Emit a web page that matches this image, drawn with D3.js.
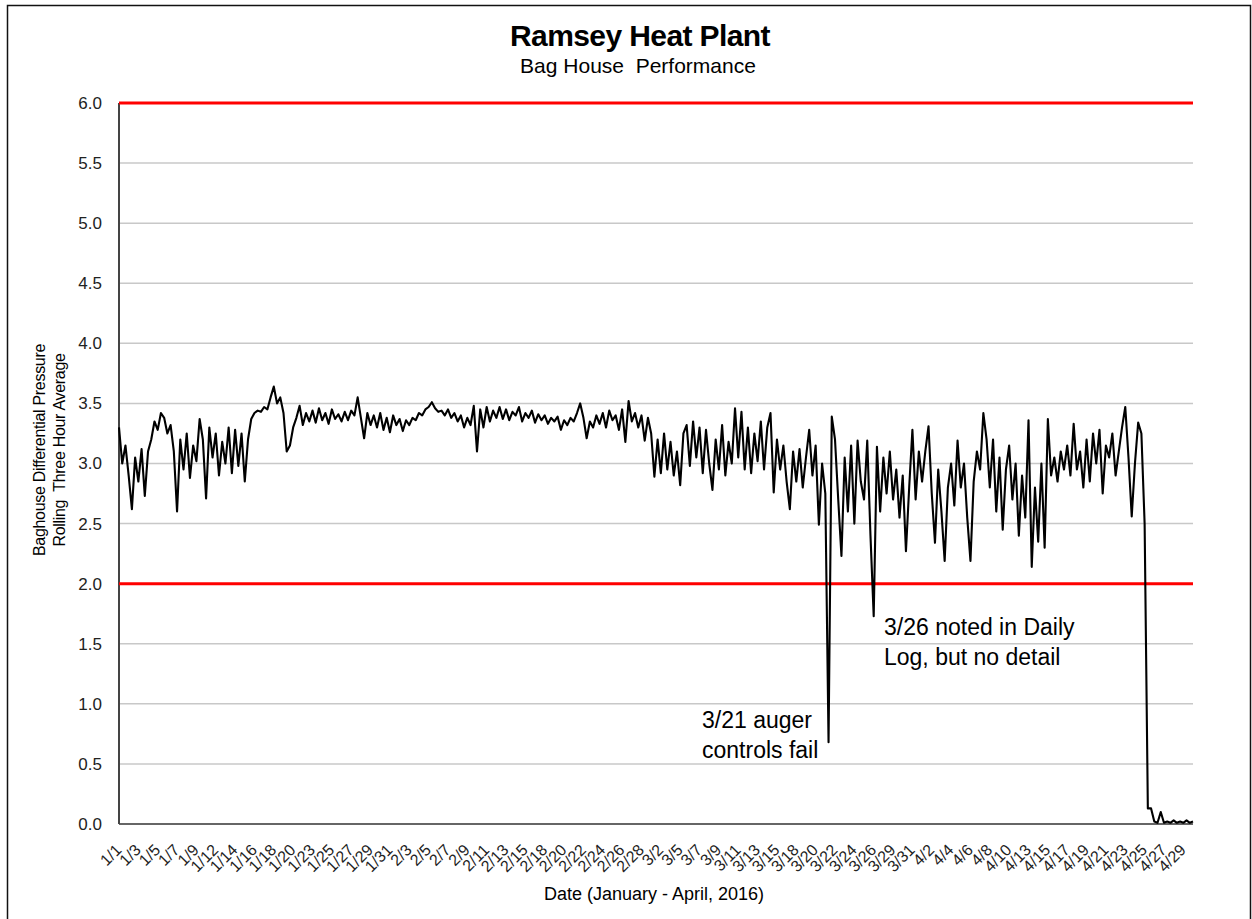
<!DOCTYPE html>
<html>
<head>
<meta charset="utf-8">
<script src="https://cdn.jsdelivr.net/npm/d3@7"></script>
<style>
body { margin: 0; background: #fff; }
text { font-family: "Liberation Sans", Arial, sans-serif; }
</style>
</head>
<body>
<script>
// rolling three hour average (about 3 readings per day)
var pressure = [
  3.30, 3.00, 3.15, 2.90, 2.62, 3.05, 2.85, 3.12, 2.73, 3.10,
  3.20, 3.35, 3.28, 3.42, 3.38, 3.25, 3.32, 3.10, 2.60, 3.20,
  2.95, 3.25, 2.88, 3.15, 3.02, 3.37, 3.20, 2.71, 3.30, 3.05,
  3.25, 2.90, 3.18, 3.00, 3.30, 2.92, 3.28, 2.98, 3.25, 2.85,
  3.20, 3.37, 3.42, 3.44, 3.43, 3.47, 3.45, 3.55, 3.64, 3.50,
  3.55, 3.42, 3.10, 3.15, 3.30, 3.38, 3.48, 3.32, 3.42, 3.35,
  3.44, 3.34, 3.46, 3.36, 3.42, 3.33, 3.45, 3.37, 3.41, 3.35,
  3.43, 3.36, 3.44, 3.40, 3.55, 3.38, 3.21, 3.42, 3.32, 3.40,
  3.30, 3.42, 3.28, 3.38, 3.26, 3.40, 3.32, 3.37, 3.27, 3.36,
  3.32, 3.38, 3.36, 3.42, 3.40, 3.45, 3.47, 3.51, 3.46, 3.43,
  3.44, 3.40, 3.45, 3.38, 3.42, 3.35, 3.40, 3.30, 3.38, 3.32,
  3.48, 3.10, 3.45, 3.30, 3.47, 3.35, 3.44, 3.38, 3.47, 3.37,
  3.45, 3.36, 3.43, 3.40, 3.47, 3.35, 3.42, 3.38, 3.44, 3.34,
  3.41, 3.36, 3.40, 3.33, 3.38, 3.35, 3.39, 3.28, 3.36, 3.32,
  3.38, 3.35, 3.42, 3.50, 3.38, 3.21, 3.35, 3.30, 3.40, 3.33,
  3.42, 3.30, 3.44, 3.36, 3.40, 3.28, 3.45, 3.18, 3.52, 3.35,
  3.42, 3.30, 3.40, 3.19, 3.38, 3.25, 2.89, 3.20, 2.92, 3.25,
  2.95, 3.18, 2.90, 3.10, 2.82, 3.25, 3.32, 2.98, 3.35, 3.05,
  3.30, 2.92, 3.28, 3.00, 2.78, 3.20, 2.95, 3.32, 2.90, 3.18,
  3.00, 3.46, 3.05, 3.43, 2.95, 3.30, 2.92, 3.25, 3.02, 3.35,
  2.95, 3.30, 3.42, 2.76, 3.20, 2.95, 3.15, 2.85, 2.62, 3.10,
  2.85, 3.12, 2.80, 3.05, 3.28, 2.90, 3.15, 2.49, 3.00, 2.75,
  0.68, 3.39, 3.20, 2.70, 2.23, 3.05, 2.60, 3.15, 2.50, 3.19,
  2.85, 2.70, 3.19, 2.40, 1.73, 3.14, 2.60, 3.05, 2.75, 3.10,
  2.70, 2.95, 2.55, 2.90, 2.27, 2.80, 3.28, 2.70, 3.10, 2.85,
  3.10, 3.31, 2.75, 2.34, 2.95, 2.60, 2.19, 2.80, 3.00, 2.65,
  3.19, 2.80, 3.00, 2.55, 2.19, 2.85, 3.10, 2.95, 3.42, 3.20,
  2.80, 3.20, 2.60, 3.05, 2.45, 2.95, 3.15, 2.70, 3.00, 2.40,
  2.90, 2.55, 3.36, 2.14, 2.80, 2.35, 3.00, 2.30, 3.37, 2.90,
  3.05, 2.85, 3.10, 2.95, 3.15, 2.90, 3.33, 2.95, 3.10, 2.80,
  3.20, 2.85, 3.25, 3.00, 3.28, 2.75, 3.15, 3.05, 3.25, 2.90,
  3.10, 3.30, 3.47, 3.05, 2.56, 3.00, 3.34, 3.25, 2.50, 0.13,
  0.13, 0.02, 0.01, 0.10, 0.01, 0.02, 0.01, 0.03, 0.01, 0.02,
  0.01, 0.03, 0.01, 0.02
];
var dateLabels = ["1/1","1/3","1/5","1/7","1/9","1/12","1/14","1/16","1/18","1/20",
  "1/23","1/25","1/27","1/29","1/31","2/3","2/5","2/7","2/9","2/11",
  "2/13","2/15","2/18","2/20","2/22","2/24","2/26","2/28","3/2","3/5",
  "3/7","3/9","3/11","3/13","3/15","3/18","3/20","3/22","3/24","3/26",
  "3/29","3/31","4/2","4/4","4/6","4/8","4/10","4/13","4/15","4/17",
  "4/19","4/21","4/23","4/25","4/27","4/29"];
var yTicks = [0, 0.5, 1, 1.5, 2, 2.5, 3, 3.5, 4, 4.5, 5, 5.5, 6];
var limits = [2.0, 6.0];
var notes = [
  {lines: ["3/21 auger", "controls fail"], x: 702, y: 728},
  {lines: ["3/26 noted in Daily", "Log, but no detail"], x: 884, y: 635}
];
var labelEvery = 6; // one date label per 6 readings

var width = 1252, height = 919;
var plotL = 119, plotR = 1193, plotT = 103, plotB = 824;

var svg = d3.select("body").append("svg")
  .attr("width", width)
  .attr("height", height);

svg.append("rect")
  .attr("x", 7.5).attr("y", 5.5)
  .attr("width", 1243).attr("height", 930)
  .attr("fill", "none").attr("stroke", "#111").attr("stroke-width", 1.5);

var x = d3.scaleLinear().domain([0, pressure.length - 1]).range([plotL, plotR]);
var y = d3.scaleLinear().domain([0, 6]).range([plotB, plotT]);

// grid lines
svg.append("g").selectAll("line")
  .data(yTicks).enter().append("line")
  .attr("x1", plotL).attr("x2", plotR)
  .attr("y1", function(d) { return y(d); })
  .attr("y2", function(d) { return y(d); })
  .attr("stroke", "#c8c8c8").attr("stroke-width", 1.5);

// y axis labels
var yAxis = svg.append("g")
  .attr("transform", "translate(" + plotL + ",0)")
  .call(d3.axisLeft(y).tickValues(yTicks).tickSize(0).tickPadding(17)
    .tickFormat(d3.format(".1f")));
yAxis.select(".domain").remove();
yAxis.selectAll("text")
  .attr("font-size", 17).attr("fill", "#222")
  .style("font-family", "'Liberation Sans', Arial, sans-serif");

// x axis labels
var xAxis = svg.append("g")
  .attr("transform", "translate(0," + plotB + ")")
  .call(d3.axisBottom(x)
    .tickValues(dateLabels.map(function(d, i) { return i * labelEvery; }))
    .tickSize(0)
    .tickFormat(function(d) { return dateLabels[d / labelEvery]; }));
xAxis.select(".domain").remove();
xAxis.selectAll("text")
  .attr("font-size", 16).attr("fill", "#222")
  .style("font-family", "'Liberation Sans', Arial, sans-serif")
  .attr("text-anchor", "end")
  .attr("y", 0).attr("dy", 0)
  .attr("transform", "translate(3,27) rotate(-45)");

// axis lines
svg.append("line").attr("x1", plotL).attr("x2", plotR)
  .attr("y1", plotB).attr("y2", plotB)
  .attr("stroke", "#666").attr("stroke-width", 2);
svg.append("line").attr("x1", plotL).attr("x2", plotL)
  .attr("y1", plotT).attr("y2", plotB)
  .attr("stroke", "#444").attr("stroke-width", 2);

// limit lines
svg.append("g").selectAll("line")
  .data(limits).enter().append("line")
  .attr("x1", plotL).attr("x2", plotR)
  .attr("y1", function(d) { return y(d); })
  .attr("y2", function(d) { return y(d); })
  .attr("stroke", "#ff0000").attr("stroke-width", 3);

// data line
var line = d3.line()
  .x(function(d, i) { return x(i); })
  .y(function(d) { return y(d); });
svg.append("path")
  .datum(pressure)
  .attr("d", line)
  .attr("fill", "none")
  .attr("stroke", "#000")
  .attr("stroke-width", 2.1)
  .attr("stroke-linejoin", "round");

// titles
svg.append("text").attr("x", 640).attr("y", 46)
  .attr("text-anchor", "middle").attr("font-size", 30).attr("font-weight", "bold")
  .attr("letter-spacing", -0.6)
  .text("Ramsey Heat Plant");
svg.append("text").attr("x", 638).attr("y", 73)
  .attr("text-anchor", "middle").attr("font-size", 21)
  .attr("xml:space", "preserve")
  .text("Bag House  Performance");
svg.append("text").attr("x", 654).attr("y", 900)
  .attr("text-anchor", "middle").attr("font-size", 18)
  .text("Date (January - April, 2016)");

var yt = svg.append("text")
  .attr("transform", "translate(45,450) rotate(-90)")
  .attr("text-anchor", "middle").attr("font-size", 16)
  .attr("letter-spacing", -0.3);
yt.append("tspan").attr("x", 0).attr("y", 0).text("Baghouse Differential Pressure");
yt.append("tspan").attr("x", 0).attr("y", 20).text("Rolling  Three Hour Average")
  .attr("xml:space", "preserve");

// annotations
notes.forEach(function(n) {
  var t = svg.append("text").attr("font-size", 23).attr("fill", "#000");
  n.lines.forEach(function(s, k) {
    t.append("tspan").attr("x", n.x).attr("y", n.y + k * 30).text(s);
  });
});
</script>
</body>
</html>
